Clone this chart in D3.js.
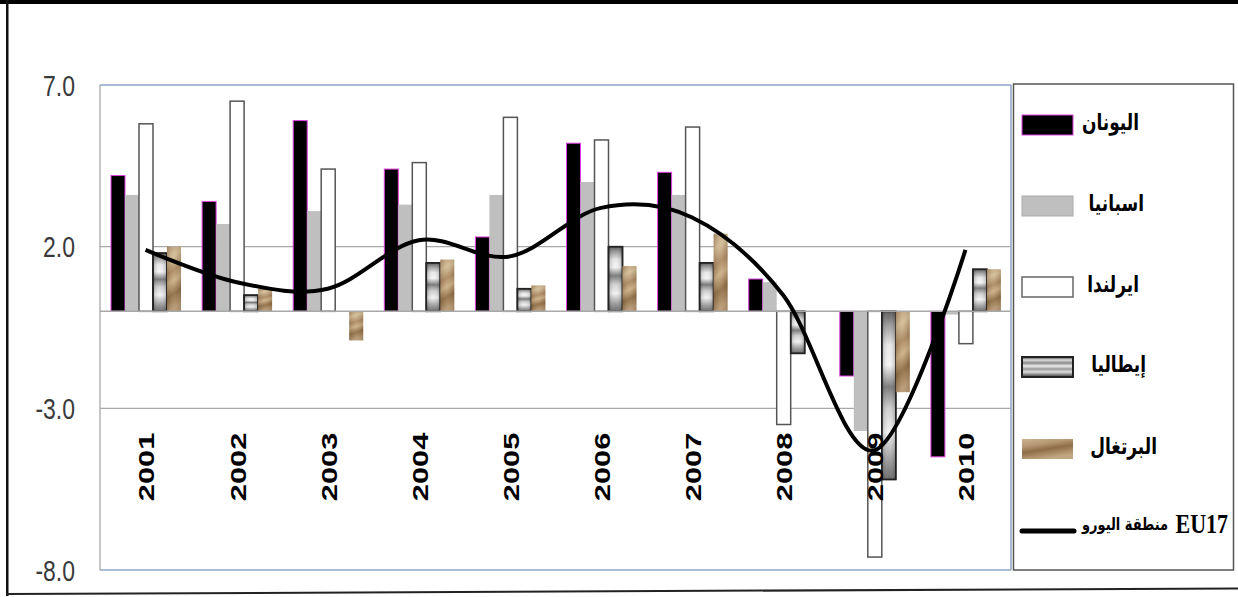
<!DOCTYPE html>
<html>
<head>
<meta charset="utf-8">
<script src="https://cdn.jsdelivr.net/npm/d3@7"></script>
<style>
  html, body { margin: 0; padding: 0; background: #fff; }
  svg { display: block; }
</style>
</head>
<body>
<svg id="chart" width="1238" height="597"></svg>
<script>
// Real GDP growth (%) by year
const years = ["2001","2002","2003","2004","2005","2006","2007","2008","2009","2010"];
const greece   = [4.2, 3.4, 5.9, 4.4, 2.3, 5.2, 4.3, 1.0, -2.0, -4.5];
const spain    = [3.6, 2.7, 3.1, 3.3, 3.6, 4.0, 3.6, 0.9, -3.7, -0.1];
const ireland  = [5.8, 6.5, 4.4, 4.6, 6.0, 5.3, 5.7, -3.5, -7.6, -1.0];
const italy    = [1.8, 0.5, 0.0, 1.5, 0.7, 2.0, 1.5, -1.3, -5.2, 1.3];
const portugal = [2.0, 0.7, -0.9, 1.6, 0.8, 1.4, 2.4, 0.0, -2.5, 1.3];
const euroArea = [1.9, 0.9, 0.7, 2.2, 1.7, 3.2, 2.9, 0.5, -4.3, 1.9];
const yTicks = [7.0, 2.0, -3.0, -8.0];
const seriesNames = ["اليونان", "اسبانيا", "ايرلندا", "إيطاليا", "البرتغال"];
const lineName = "منطقة اليورو";
const lineCode = "EU17";

const svg = d3.select("#chart");
const defs = svg.append("defs");

function gradient(id, x2, y2, stops) {
  const g = defs.append("linearGradient").attr("id", id)
    .attr("x1", 0).attr("y1", 0).attr("x2", x2).attr("y2", y2);
  stops.forEach(([o, c]) => g.append("stop").attr("offset", o).attr("stop-color", c));
}

// chrome-like fill for Italy
gradient("fillItaly", 0, 1, [[0,"#5a5a5a"],[0.08,"#9a9a9a"],[0.2,"#e8e8e8"],[0.32,"#f4f4f4"],[0.45,"#7a7a7a"],
  [0.58,"#d0d0d0"],[0.72,"#f2f2f2"],[0.86,"#a8a8a8"],[1,"#6a6a6a"]]);
gradient("fillItalyH", 1, 0, [[0,"rgba(0,0,0,0.25)"],[0.5,"rgba(255,255,255,0)"],[1,"rgba(0,0,0,0.25)"]]);
gradient("fillItalyLegend", 0, 1, [[0,"#444"],[0.15,"#ddd"],[0.3,"#888"],[0.45,"#eee"],[0.6,"#999"],
  [0.75,"#ddd"],[0.9,"#777"],[1,"#444"]]);

// sandy brown texture for Portugal
gradient("fillPortugal", 0.15, 1, [[0,"#b39570"],[0.2,"#d3bd98"],[0.42,"#a88660"],[0.58,"#c9ae86"],
  [0.78,"#8a6941"],[1,"#b49672"]]);
gradient("fillPortugalShade", 1, 0, [[0,"rgba(90,60,30,0.25)"],[0.5,"rgba(255,240,210,0.1)"],[1,"rgba(90,60,30,0.2)"]]);
gradient("fillPortugalLegend", 0.4, 1, [[0,"#cbb48f"],[0.35,"#b59672"],[0.6,"#8e6d48"],[1,"#c2a67f"]]);

const plot = { left: 100, right: 1011, top: 85, bottom: 570 };

const x = d3.scaleBand().domain(years).range([plot.left, plot.right]);
const inner = d3.scaleBand().domain(d3.range(5)).range([11, 81]);
const y = d3.scaleLinear().domain([-8, 7]).range([plot.bottom, plot.top]);

// outer frame
svg.append("rect").attr("x", 0).attr("y", 0).attr("width", 1238).attr("height", 4).attr("fill", "#000");
svg.append("rect").attr("x", 6).attr("y", 0).attr("width", 2.5).attr("height", 596).attr("fill", "#111");
svg.append("line").attr("x1", 6).attr("x2", 1238).attr("y1", 594).attr("y2", 588.5)
  .attr("stroke", "#222").attr("stroke-width", 2);

// gridlines
const grid = svg.append("g");
[2, -3].forEach(v => grid.append("line")
  .attr("x1", plot.left).attr("x2", plot.right).attr("y1", y(v)).attr("y2", y(v))
  .attr("stroke", "#a8a8a8").attr("stroke-width", 1.2));

// plot frame
svg.append("line").attr("x1", plot.left).attr("x2", plot.right).attr("y1", plot.top).attr("y2", plot.top)
  .attr("stroke", "#8ea4c6").attr("stroke-width", 1.5);
svg.append("line").attr("x1", plot.left).attr("x2", plot.right).attr("y1", plot.bottom).attr("y2", plot.bottom)
  .attr("stroke", "#8ea4c6").attr("stroke-width", 1.5);
svg.append("line").attr("x1", plot.right).attr("x2", plot.right).attr("y1", plot.top).attr("y2", plot.bottom)
  .attr("stroke", "#8ea4c6").attr("stroke-width", 1.5);
svg.append("line").attr("x1", plot.left).attr("x2", plot.left).attr("y1", plot.top).attr("y2", plot.bottom)
  .attr("stroke", "#a0a0a0").attr("stroke-width", 1.2);

// y-axis tick labels
const yAxis = svg.append("g");
yTicks.forEach(v => {
  yAxis.append("g").attr("transform", `translate(75,${y(v)}) scale(1,1.27)`)
    .append("text").attr("text-anchor", "end").attr("dy", "0.36em")
    .attr("font-family", "Liberation Sans, Arial, sans-serif").attr("font-size", 23)
    .attr("fill", "#3a3a3a").text(v.toFixed(1));
});

// bars
const series = [
  { values: greece,   fill: "#000", stroke: "#e040e0", sw: 1 },
  { values: spain,    fill: "#bfbfbf", stroke: "none", sw: 0 },
  { values: ireland,  fill: "#fff", stroke: "#555", sw: 1.5 },
  { values: italy,    fill: "url(#fillItaly)", stroke: "#222", sw: 1.5, overlay: "url(#fillItalyH)", ostroke: "#222" },
  { values: portugal, fill: "url(#fillPortugal)", stroke: "none", sw: 0, overlay: "url(#fillPortugalShade)", ostroke: "none" }
];
const bars = svg.append("g");
series.forEach((s, i) => {
  const g = bars.append("g");
  s.values.forEach((v, j) => {
    if (v === 0) return;
    const x0 = x(years[j]) + inner(i);
    const y0 = Math.min(y(v), y(0));
    const h = Math.abs(y(v) - y(0));
    g.append("rect").attr("x", x0).attr("y", y0).attr("width", inner.bandwidth()).attr("height", h)
      .attr("fill", s.fill).attr("stroke", s.stroke).attr("stroke-width", s.sw);
    if (s.overlay) {
      g.append("rect").attr("x", x0).attr("y", y0).attr("width", inner.bandwidth()).attr("height", h)
        .attr("fill", s.overlay).attr("stroke", s.ostroke).attr("stroke-width", s.sw);
    }
  });
});

// zero line
svg.append("line").attr("x1", plot.left).attr("x2", plot.right).attr("y1", y(0)).attr("y2", y(0))
  .attr("stroke", "#a8a8a8").attr("stroke-width", 1.5);

// x-axis labels (rotated)
const xAxis = svg.append("g");
years.forEach(yr => {
  xAxis.append("g").attr("transform", `translate(${x(yr) + x.bandwidth() / 2 + 1},467) rotate(-90) scale(1.4,1)`)
    .append("text").attr("text-anchor", "middle").attr("dy", "0.36em")
    .attr("font-family", "Liberation Sans, Arial, sans-serif").attr("font-weight", "bold")
    .attr("font-size", 22).attr("fill", "#000").text(yr);
});

// euro area line (smoothed)
const line = d3.line()
  .x((d, i) => x(years[i]) + x.bandwidth() / 2)
  .y(d => y(d))
  .curve(d3.curveCatmullRom.alpha(0));
svg.append("path").datum(euroArea).attr("d", line)
  .attr("fill", "none").attr("stroke", "#000").attr("stroke-width", 4);

// legend
const legend = svg.append("g");
legend.append("rect").attr("x", 1013.5).attr("y", 84).attr("width", 220).attr("height", 486)
  .attr("fill", "#fff").attr("stroke", "#555").attr("stroke-width", 1.5);
const legendRows = [
  { cy: 125, fill: "#000", stroke: "#e040e0", sw: 1, tx: 1139 },
  { cy: 206, fill: "#bfbfbf", stroke: "#aaa", sw: 1, tx: 1144 },
  { cy: 287, fill: "#fff", stroke: "#666", sw: 1.5, tx: 1139 },
  { cy: 367, fill: "url(#fillItalyLegend)", stroke: "#222", sw: 2, tx: 1146 },
  { cy: 449, fill: "url(#fillPortugalLegend)", stroke: "none", sw: 0, tx: 1157 }
];
legendRows.forEach((r, i) => {
  legend.append("rect").attr("x", 1022).attr("y", r.cy - 10).attr("width", 51).attr("height", 20)
    .attr("fill", r.fill).attr("stroke", r.stroke).attr("stroke-width", r.sw);
  legend.append("g").attr("transform", `translate(${r.tx},${r.cy}) scale(1,1.35)`)
    .append("text").attr("text-anchor", "start").attr("direction", "rtl").attr("dy", "0.2em")
    .attr("font-family", "DejaVu Sans, sans-serif").attr("font-weight", "bold")
    .attr("font-size", 17).attr("fill", "#000").text(seriesNames[i]);
});
legend.append("line").attr("x1", 1022).attr("x2", 1074).attr("y1", 531).attr("y2", 531)
  .attr("stroke", "#000").attr("stroke-width", 5).attr("stroke-linecap", "round");
legend.append("g").attr("transform", "translate(1228,524) scale(1,1.2)")
  .append("text").attr("text-anchor", "end").attr("dy", "0.35em")
  .attr("font-family", "Liberation Serif, Times New Roman, serif").attr("font-weight", "bold")
  .attr("font-size", 22).attr("fill", "#000").text(lineCode);
legend.append("g").attr("transform", "translate(1168,525) scale(1,1.3)")
  .append("text").attr("text-anchor", "start").attr("direction", "rtl").attr("dy", "0.3em")
  .attr("font-family", "DejaVu Sans, sans-serif").attr("font-weight", "bold")
  .attr("font-size", 13).attr("fill", "#000").text(lineName);
</script>
</body>
</html>
